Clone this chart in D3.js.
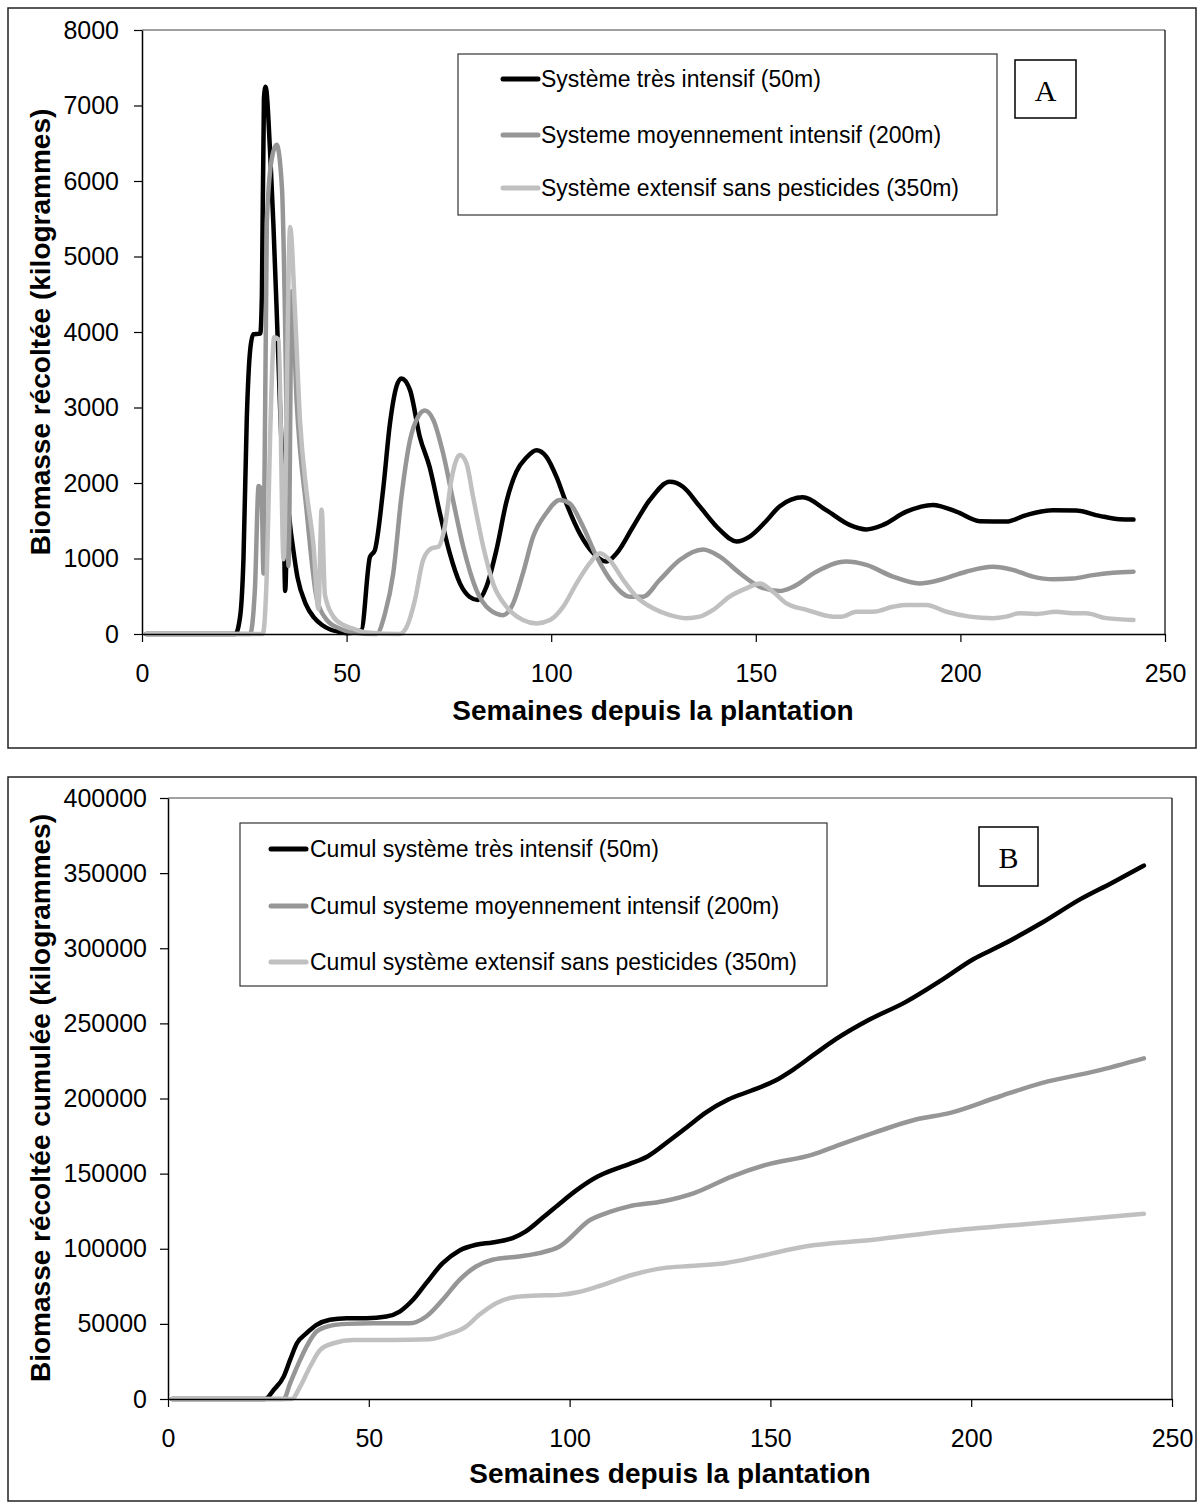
<!DOCTYPE html>
<html>
<head>
<meta charset="utf-8">
<script src="https://cdn.jsdelivr.net/npm/d3@7"></script>
<style>
  html, body { margin: 0; padding: 0; background: #fff; }
  svg { display: block; }
  text { font-family: "Liberation Sans", Arial, sans-serif; fill: #000; }
</style>
</head>
<body>
<svg id="chart" width="1203" height="1510"></svg>
<script>
// ---------------- DATA ----------------
const xTicks = [0, 50, 100, 150, 200, 250];
const yTicksA = [0, 1000, 2000, 3000, 4000, 5000, 6000, 7000, 8000];
const yTicksB = [0, 50000, 100000, 150000, 200000, 250000, 300000, 350000, 400000];

const legendA = [
  "Système très intensif (50m)",
  "Systeme moyennement intensif (200m)",
  "Système extensif sans pesticides (350m)"
];
const legendB = [
  "Cumul système très intensif (50m)",
  "Cumul systeme moyennement intensif (200m)",
  "Cumul système extensif sans pesticides (350m)"
];
const seriesColors = ["#000000", "#969696", "#c0c0c0"];

// Panel A : weekly harvested biomass [week, kg]
const aIntensive = [
  [1,0],[22.8,0],[24,240],[24.8,1000],[25.6,2840],[26.4,3740],[27.2,3970],[28.9,3980],[29.3,4490],
  [29.8,7100],[30.2,7250],[31.3,6390],[32.1,5440],[32.9,4300],[33.7,3075],[34.6,1650],[35.0,570],
  [35.6,1650],[36.5,1300],[38,750],[40,400],[42,220],[44,120],[46,60],[48,30],[50,10],[53.6,50],
  [55.7,1020],[56.9,1110],[58.9,1900],[60.6,2790],[62.2,3280],[63.4,3385],[65.5,3230],[67.9,2610],
  [70.3,2210],[72.8,1600],[75.2,1070],[77.7,670],[80.1,490],[82.1,450],[84.2,630],[86.6,1110],
  [89.1,1760],[91.5,2150],[94,2340],[96.4,2435],[98.8,2350],[101.3,2080],[103.7,1730],[107,1330],
  [110.3,1070],[113.5,960],[116,1070],[120,1420],[124.1,1775],[129,2015],[132.2,1950],[136.3,1690],
  [141.2,1380],[145.3,1225],[148.5,1290],[152.6,1500],[155.8,1690],[161.5,1810],[167.2,1640],
  [172.9,1445],[177,1385],[181.1,1445],[186.8,1620],[193.3,1710],[199,1620],[204.7,1495],
  [211.2,1490],[216.1,1575],[222.6,1640],[228.3,1635],[234,1565],[238.9,1520],[242.3,1515]
];
const aMedium = [
  [1,0],[26.4,0],[27.6,600],[28.5,1960],[29.2,1900],[29.7,800],[30.5,5440],[31.7,6290],[32.9,6480],
  [34.2,5910],[35,4020],[35.4,2600],[35.8,900],[36.6,4540],[37.8,3075],[40.2,1650],[42.7,470],
  [45.1,190],[48.4,70],[51.6,20],[57.3,0],[59.4,275],[61.4,805],[63.4,1820],[65.5,2570],[67.5,2880],
  [69.1,2960],[71.2,2835],[73.6,2390],[76,1775],[78.5,1155],[81.7,585],[85,320],[88.2,250],
  [90.7,405],[93.1,805],[95.6,1290],[98.8,1600],[102.1,1775],[104.5,1730],[107.8,1420],[111.1,1025],
  [115.1,670],[119.2,495],[122.4,495],[126.5,715],[131.4,980],[137.1,1120],[141.2,1025],[146.1,805],
  [151,625],[155.8,570],[159.1,625],[164.8,825],[172.1,960],[177,915],[183.5,760],[190,670],
  [194.9,715],[201.4,825],[207.9,890],[212.8,850],[217.7,760],[222.6,725],[227.5,735],[232.4,780],
  [237.3,810],[242.3,825]
];
const aExtensive = [
  [1,0],[29.5,0],[30.5,800],[31.3,2600],[32.3,3930],[33.4,3900],[34.6,990],[36.2,5390],[37.4,4260],
  [38.6,2840],[40.2,1890],[41.9,1180],[43.1,330],[43.9,1650],[44.7,520],[46.7,235],[49.2,120],
  [51.6,70],[54.9,20],[63,0],[64.7,95],[66.7,450],[68.7,980],[70.8,1135],[72.4,1155],[74,1420],
  [75.6,2040],[77.7,2370],[79.3,2260],[80.9,1820],[83.4,1155],[85.8,670],[89.1,360],[93.1,185],
  [96.4,140],[99.7,185],[102.9,360],[106.2,670],[109.4,935],[111.9,1070],[114.3,980],[117.6,715],
  [120.8,495],[124.9,340],[129,250],[133,210],[136.3,230],[139.6,320],[143.6,495],[147.7,605],
  [151,670],[154.2,560],[157.5,405],[162.4,320],[168.9,230],[170.9,230],[174.6,295],[178.7,295],
  [183.5,360],[186.8,385],[191.7,385],[196.6,295],[202.3,230],[207.9,210],[211.2,230],[214.4,275],
  [218.5,265],[223.4,295],[227.5,275],[230.7,275],[235.6,210],[242.3,185]
];

// Panel B : cumulated harvested biomass [week, kg]
const bIntensive = [
  [1,0],[24.2,0],[26.3,6000],[28.8,14900],[30.4,26000],[32.1,37100],[34.5,43800],[37,49300],
  [40.3,52700],[44.5,53800],[49.4,53800],[54.4,54900],[57.7,58200],[61,66000],[64.3,77100],
  [68.4,90400],[72.6,98900],[76.7,102700],[80.8,104200],[85.8,107100],[89.1,111600],[93.2,120400],
  [97.5,130000],[102,139500],[107.1,148200],[111,152700],[115,156500],[119.5,161600],[125.2,172700],
  [129.5,181500],[133.8,190400],[139.5,199300],[145,205000],[151,211600],[155.7,219300],[161,229500],
  [166.2,239300],[174.8,252700],[183.4,263800],[192.9,279300],[200.5,292700],[207.2,301600],
  [217.7,317100],[227.2,332700],[235,343500],[243,355000]
];
const bMedium = [
  [1,0],[28.8,0],[30.4,10400],[32.9,26000],[34.5,34900],[37,44900],[40.3,48700],[44.5,50000],
  [51.1,50400],[60.2,50400],[64.3,54900],[68.4,66000],[72.6,79300],[76.7,88200],[80.8,92700],
  [87.4,94900],[92.4,97100],[97.5,101500],[105.2,119300],[110,124500],[114.8,128200],[123.3,131600],
  [131,137100],[140.5,148200],[149.1,156000],[160.5,162700],[166.2,168200],[175.7,177100],
  [186.2,186000],[194.8,190400],[207.2,201500],[217.7,210400],[231,218200],[243,226700]
];
const bExtensive = [
  [1,0],[30.8,0],[32.9,8200],[35.4,21600],[37.9,32700],[41.2,37100],[46.1,39300],[56,39300],
  [65.1,39800],[69.3,42700],[74.2,48200],[77.5,56000],[81.7,63800],[85.8,67600],[90.7,68700],
  [97.5,69300],[102,71000],[107.1,74900],[115.7,82700],[123.3,87100],[130,88500],[138.6,90400],
  [147.2,94900],[158.6,101500],[175.7,106000],[192.9,111500],[212,116000],[226.2,119300],[243,123300]
];

// ---------------- DRAW ----------------
const svg = d3.select("#chart");
const FONT = '"Liberation Sans", Arial, sans-serif';

function panel(cfg) {
  const g = svg.append("g");
  g.append("rect").attr("x", cfg.frame[0]).attr("y", cfg.frame[1])
    .attr("width", cfg.frame[2]).attr("height", cfg.frame[3])
    .attr("fill", "#fff").attr("stroke", "#222").attr("stroke-width", 1.5);

  const x = d3.scaleLinear().domain([0, 250]).range([cfg.left, cfg.right]);
  const y = d3.scaleLinear().domain([0, cfg.yMax]).range([cfg.bottom, cfg.top]);

  g.append("line").attr("x1", cfg.left).attr("x2", cfg.right).attr("y1", cfg.top).attr("y2", cfg.top)
    .attr("stroke", "#808080").attr("stroke-width", 1.5);
  g.append("line").attr("x1", cfg.right).attr("x2", cfg.right).attr("y1", cfg.top).attr("y2", cfg.bottom)
    .attr("stroke", "#000").attr("stroke-width", 1.2);

  const line = d3.line().x(d => x(d[0])).y(d => y(d[1])).curve(d3.curveMonotoneX);
  cfg.series.forEach((s, i) => {
    g.append("path").datum(s).attr("d", line).attr("fill", "none")
      .attr("stroke", seriesColors[i]).attr("stroke-width", 4.5)
      .attr("stroke-linejoin", "round").attr("stroke-linecap", "round");
  });

  const yAxis = d3.axisLeft(y).tickValues(cfg.yTicks).tickSize(8).tickSizeOuter(0)
    .tickPadding(cfg.yPad).tickFormat(d3.format("d"));
  const ya = g.append("g").attr("transform", `translate(${cfg.left},0)`).call(yAxis);
  const xAxis = d3.axisBottom(x).tickValues(xTicks).tickSize(8).tickSizeOuter(0)
    .tickPadding(22).tickFormat(d3.format("d"));
  const xa = g.append("g").attr("transform", `translate(0,${cfg.bottom})`).call(xAxis);
  [ya, xa].forEach(a => {
    a.select(".domain").attr("stroke", "#000").attr("stroke-width", 1.5);
    a.selectAll(".tick line").attr("stroke", "#000").attr("stroke-width", 1.2);
    a.selectAll(".tick text").attr("font-family", FONT).attr("font-size", 25).attr("fill", "#000");
  });

  g.append("text").attr("x", cfg.xTitlePos[0]).attr("y", cfg.xTitlePos[1])
    .attr("text-anchor", "middle").attr("dominant-baseline", "central")
    .attr("font-weight", "bold").attr("font-size", 28).text("Semaines depuis la plantation");
  g.append("text").attr("transform", `translate(${cfg.yTitlePos[0]},${cfg.yTitlePos[1]}) rotate(-90)`)
    .attr("text-anchor", "middle").attr("dominant-baseline", "central")
    .attr("font-weight", "bold").attr("font-size", 28).text(cfg.yTitle);

  const L = cfg.legend;
  g.append("rect").attr("x", L.box[0]).attr("y", L.box[1]).attr("width", L.box[2]).attr("height", L.box[3])
    .attr("fill", "#fff").attr("stroke", "#333").attr("stroke-width", 1.2);
  L.labels.forEach((t, i) => {
    const yy = L.rows[i];
    g.append("line").attr("x1", L.lineX[0]).attr("x2", L.lineX[1]).attr("y1", yy).attr("y2", yy)
      .attr("stroke", seriesColors[i]).attr("stroke-width", 5).attr("stroke-linecap", "round");
    g.append("text").attr("x", L.textX).attr("y", yy).attr("dominant-baseline", "central")
      .attr("font-size", 23).text(t);
  });

  const B = cfg.letterBox;
  g.append("rect").attr("x", B.box[0]).attr("y", B.box[1]).attr("width", B.box[2]).attr("height", B.box[3])
    .attr("fill", "#fff").attr("stroke", "#000").attr("stroke-width", 1.5);
  g.append("text").attr("x", B.box[0] + B.box[2] / 2).attr("y", B.box[1] + B.box[3] / 2 + 1)
    .attr("text-anchor", "middle").attr("dominant-baseline", "central")
    .style("font-family", '"Liberation Serif", "Times New Roman", serif')
    .attr("font-size", 30).text(B.letter);
}

panel({
  frame: [8, 8, 1188, 740],
  left: 142, right: 1165, top: 30, bottom: 634, yMax: 8000, yTicks: yTicksA, yPad: 15,
  series: [aIntensive, aMedium, aExtensive],
  xTitlePos: [653, 710], yTitlePos: [40, 332],
  yTitle: "Biomasse récoltée (kilogrammes)",
  legend: { box: [458, 54, 539, 161], rows: [79, 135, 188], lineX: [503, 538], textX: 541, labels: legendA },
  letterBox: { box: [1015, 60, 61, 58], letter: "A" }
});

panel({
  frame: [8, 777, 1188, 724],
  left: 168, right: 1172, top: 798, bottom: 1399, yMax: 400000, yTicks: yTicksB, yPad: 13,
  series: [bIntensive, bMedium, bExtensive],
  xTitlePos: [670, 1473], yTitlePos: [40, 1098],
  yTitle: "Biomasse récoltée cumulée (kilogrammes)",
  legend: { box: [240, 823, 587, 163], rows: [849, 906, 962], lineX: [271, 306], textX: 310, labels: legendB },
  letterBox: { box: [979, 827, 59, 59], letter: "B" }
});
</script>
</body>
</html>
